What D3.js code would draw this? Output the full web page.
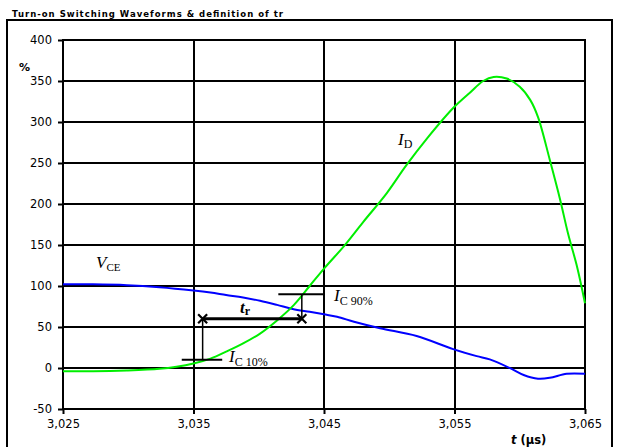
<!DOCTYPE html>
<html>
<head>
<meta charset="utf-8">
<script src="https://cdn.jsdelivr.net/npm/d3@7"></script>
<style>
body{margin:0;background:#fff;}
svg{display:block;}
.tick text{font-family:"DejaVu Sans",Verdana,sans-serif;font-size:11.5px;fill:#000;}
.ann{font-family:"Liberation Serif","DejaVu Serif",serif;fill:#000;}
</style>
</head>
<body>
<script>
// axis ticks
var xTicks=[3.025,3.035,3.045,3.055,3.065];
var yTicks=[-50,0,50,100,150,200,250,300,350,400];

// I_D curve (time in us, %)
var tID=[3.025,3.0273,3.0299,3.0324,3.0337,3.0350,3.0363,3.0375,3.0388,3.0401,3.0414,3.0427,3.0439,3.0451,3.0465,3.0480,3.0498,3.0513,3.0529,3.0549,3.0562,3.0572,3.0580,3.0590,3.0600,3.0608,3.0614,3.0623,3.0631,3.0637,3.0644,3.065];
var iD=[-4,-4,-3,-1,1.5,5.5,11.5,20,30,42,58,77,100,123,148,178,213,247,280,317,336,350,355,353,343,327,306,254,205,164,123,79];

// V_CE curve
var tVCE=[3.025,3.0273,3.0299,3.0324,3.0350,3.0363,3.0375,3.0388,3.0401,3.0414,3.0426,3.0439,3.0450,3.0460,3.0473,3.0493,3.0521,3.0549,3.0567,3.0577,3.0593,3.0603,3.0614,3.0623,3.0636,3.065];
var vCE=[102,102,101,98.5,94.5,92,89,86,82,77,72,68.5,65.5,62.5,56.5,48.5,39,23,14.5,10.5,-0.5,-8.5,-13,-12,-7,-7];

// t_r definition
var trTimes=[3.0357,3.0433];   // 10% and 90% crossings
var trLevels=[10,90];
var trArrow=60;

var svg=d3.select("body").append("svg").attr("width",619).attr("height",447);

// outer frame
svg.append("rect").attr("x",7).attr("y",20).attr("width",605).attr("height",440)
  .attr("fill","none").attr("stroke","#000").attr("stroke-width",2);

svg.append("text").attr("x",12).attr("y",17)
  .attr("font-family","'DejaVu Sans',Verdana,sans-serif").attr("font-weight","bold")
  .attr("font-size","8.5px").attr("textLength",271).attr("lengthAdjust","spacing")
  .text("Turn-on Switching Waveforms & definition of tr");

var x=d3.scaleLinear().domain([3.025,3.065]).range([63,585]);
var y=d3.scaleLinear().domain([-50,400]).range([409,40]);

// grid
svg.append("g").selectAll("line").data(yTicks).enter().append("line")
  .attr("x1",x(3.025)).attr("x2",x(3.065))
  .attr("y1",function(d){return Math.round(y(d));})
  .attr("y2",function(d){return Math.round(y(d));})
  .attr("stroke","#000").attr("stroke-width",2);
svg.append("g").selectAll("line").data(xTicks).enter().append("line")
  .attr("y1",y(400)-1).attr("y2",y(-50)+1)
  .attr("x1",function(d){return Math.round(x(d));})
  .attr("x2",function(d){return Math.round(x(d));})
  .attr("stroke","#000").attr("stroke-width",2);

var loc=d3.formatLocale({decimal:",",thousands:".",grouping:[3],currency:["",""],minus:"-"});

var yAxis=svg.append("g").attr("transform","translate("+x(3.025)+",0)")
  .call(d3.axisLeft(y).tickValues(yTicks).tickSize(5).tickPadding(6).tickFormat(loc.format("d")));
var xAxis=svg.append("g").attr("transform","translate(0,"+y(-50)+")")
  .call(d3.axisBottom(x).tickValues(xTicks).tickSize(5).tickPadding(6).tickFormat(loc.format(".3f")));
[yAxis,xAxis].forEach(function(a){
  a.select(".domain").remove();
  a.selectAll(".tick line").attr("stroke","#000").attr("stroke-width",2);
});

svg.append("text").attr("x",19).attr("y",71)
  .attr("font-family","'DejaVu Sans',Verdana,sans-serif").attr("font-weight","bold")
  .attr("font-size","11px").text("%");

var xl=svg.append("text").attr("x",511).attr("y",444)
  .attr("font-family","'DejaVu Sans',Verdana,sans-serif").attr("font-weight","bold")
  .attr("font-size","11.5px");
xl.append("tspan").attr("font-style","italic").text("t");
xl.append("tspan").text(" (µs)");

// curves
var line=d3.line().curve(d3.curveCatmullRom.alpha(0.5));
svg.append("path")
  .attr("d",line(tVCE.map(function(t,i){return [x(t),y(vCE[i])];})))
  .attr("fill","none").attr("stroke","#0000ff").attr("stroke-width",2);
svg.append("path")
  .attr("d",line(tID.map(function(t,i){return [x(t),y(iD[i])];})))
  .attr("fill","none").attr("stroke","#00ee00").attr("stroke-width",2);

// t_r construction
var ann=svg.append("g").attr("stroke","#000");
ann.append("line").attr("x1",x(trTimes[0]-0.0016)).attr("x2",x(trTimes[0]+0.0015))
  .attr("y1",y(trLevels[0])).attr("y2",y(trLevels[0])).attr("stroke-width",2);
ann.append("line").attr("x1",x(trTimes[1]-0.0018)).attr("x2",x(trTimes[1]+0.0017))
  .attr("y1",y(trLevels[1])).attr("y2",y(trLevels[1])).attr("stroke-width",2);
trTimes.forEach(function(t,i){
  ann.append("line").attr("x1",x(t)).attr("x2",x(t))
    .attr("y1",y(trLevels[i])).attr("y2",y(trArrow)).attr("stroke-width",1.5);
});
ann.append("line").attr("x1",x(trTimes[0])).attr("x2",x(trTimes[1]))
  .attr("y1",y(trArrow)).attr("y2",y(trArrow)).attr("stroke-width",3);
trTimes.forEach(function(t){
  var cx=x(t),cy=y(trArrow),s=4.5;
  ann.append("path").attr("d","M"+(cx-s)+","+(cy-s)+"L"+(cx+s)+","+(cy+s)+"M"+(cx-s)+","+(cy+s)+"L"+(cx+s)+","+(cy-s))
    .attr("stroke-width",2.2).attr("fill","none");
});

// labels
function label(px,py,main,sub,opts){
  var t=svg.append("text").attr("class","ann").attr("x",px).attr("y",py);
  t.append("tspan").attr("font-style","italic").attr("font-size",opts.size+"px")
    .attr("font-weight",opts.bold?"bold":"normal").text(main);
  t.append("tspan").attr("font-size",opts.sub+"px").attr("dy",opts.dy)
    .attr("font-style",opts.subItalic?"italic":"normal")
    .attr("font-weight",opts.bold?"bold":"normal").text(sub);
}
label(96,268,"V","CE",{size:17,sub:11,dy:3});
label(398,145,"I","D",{size:17,sub:12,dy:3});
label(334,301,"I","C 90%",{size:17,sub:12,dy:3.5,subItalic:false});
label(229,362,"I","C 10%",{size:17,sub:12,dy:4});
label(240,313,"t","r",{size:17,sub:12,dy:2,bold:true});
</script>
</body>
</html>
